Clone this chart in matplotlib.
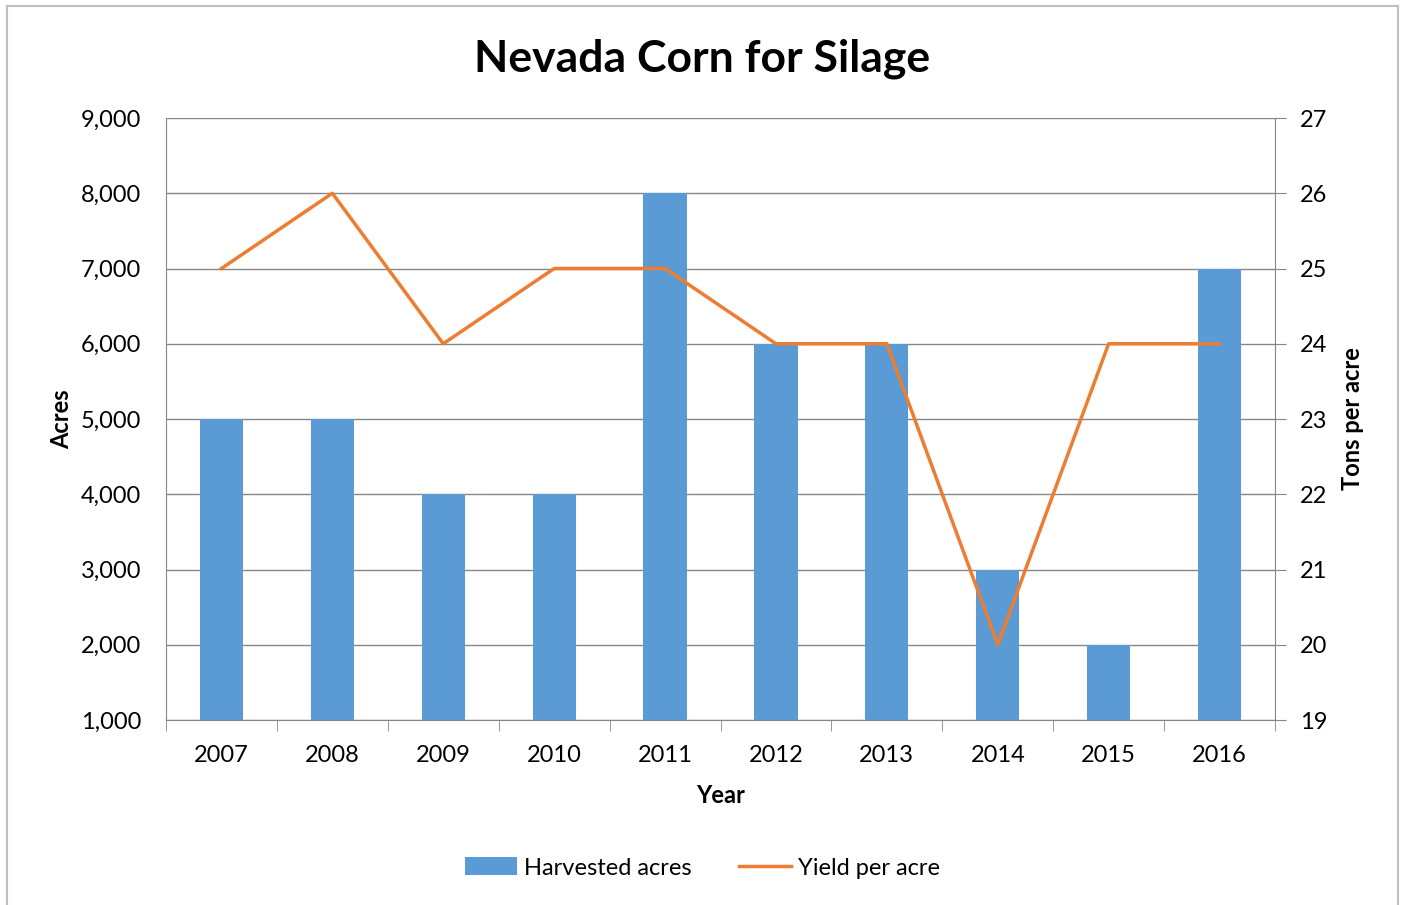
import numpy as np
import matplotlib
matplotlib.use("Agg")
import matplotlib.pyplot as plt
from matplotlib.patches import Rectangle
from matplotlib.ticker import FuncFormatter

plt.rcParams['font.family'] = ['Lato', 'DejaVu Sans']

# data
years = ['2007', '2008', '2009', '2010', '2011', '2012', '2013', '2014', '2015', '2016']
acres = [5000, 5000, 4000, 4000, 8000, 6000, 6000, 3000, 2000, 7000]
yield_per_acre = [25, 26, 24, 25, 25, 24, 24, 20, 24, 24]

bar_color = '#5B9BD5'
line_color = '#ED7D31'
grid_color = '#868686'

fig = plt.figure(figsize=(14.05, 9.05), dpi=100)
ax = fig.add_axes([166/1405, 1 - 720/905, (1275 - 166)/1405, (720 - 118)/905])

x = np.arange(len(years))
bars = ax.bar(x, acres, width=0.39, color=bar_color, label='Harvested acres', zorder=2)
ax.set_ylim(1000, 9000)
ax.set_xlim(-0.5, len(years) - 0.5)
ax.set_yticks(range(1000, 9001, 1000))
ax.yaxis.set_major_formatter(FuncFormatter(lambda v, p: f'{int(v):,}'))
ax.grid(axis='y', color=grid_color, linewidth=1, zorder=0)
ax.set_axisbelow(True)

ax.set_xticks(x)
ax.set_xticklabels(years)
ax.set_xticks(np.arange(-0.5, len(years), 1), minor=True)
ax.tick_params(axis='x', which='major', length=0, labelsize=17, pad=18)
ax.tick_params(axis='x', which='minor', length=8, color=grid_color, direction='out')
ax.tick_params(axis='y', length=0, labelsize=17, pad=18)

for side in ['top', 'right']:
    ax.spines[side].set_visible(False)
for side in ['left', 'bottom']:
    ax.spines[side].set_color(grid_color)

ax.set_ylabel('Acres', fontsize=17, fontweight='bold', labelpad=5)
ax.set_xlabel('Year', fontsize=17, fontweight='bold', labelpad=13)

ax2 = ax.twinx()
line, = ax2.plot(x, yield_per_acre, color=line_color, linewidth=2.5, label='Yield per acre', zorder=3)
ax2.set_ylim(19, 27)
ax2.set_yticks(range(19, 28))
ax2.tick_params(axis='y', length=8, color=grid_color, labelsize=17, pad=10)
for side in ['top', 'left', 'bottom']:
    ax2.spines[side].set_visible(False)
ax2.spines['right'].set_color(grid_color)
ax2.set_ylabel('Tons per acre', fontsize=17, fontweight='bold', labelpad=10)

fig.suptitle('Nevada Corn for Silage', fontsize=32, fontweight='bold', y=0.958)

fig.legend(handles=[bars, line], loc='center', bbox_to_anchor=(0.5, 1 - 868/905),
           ncol=2, frameon=False, fontsize=17, handlelength=2.2, handleheight=0.8,
           columnspacing=2.0, handletextpad=0.3)

fig.patches.append(Rectangle((7/1405, -0.01), (1398 - 7)/1405, 1 - 6/905 + 0.01,
                             transform=fig.transFigure, fill=False,
                             edgecolor='#BFBFBF', linewidth=1.5))

fig.savefig('out.png', dpi=100)
